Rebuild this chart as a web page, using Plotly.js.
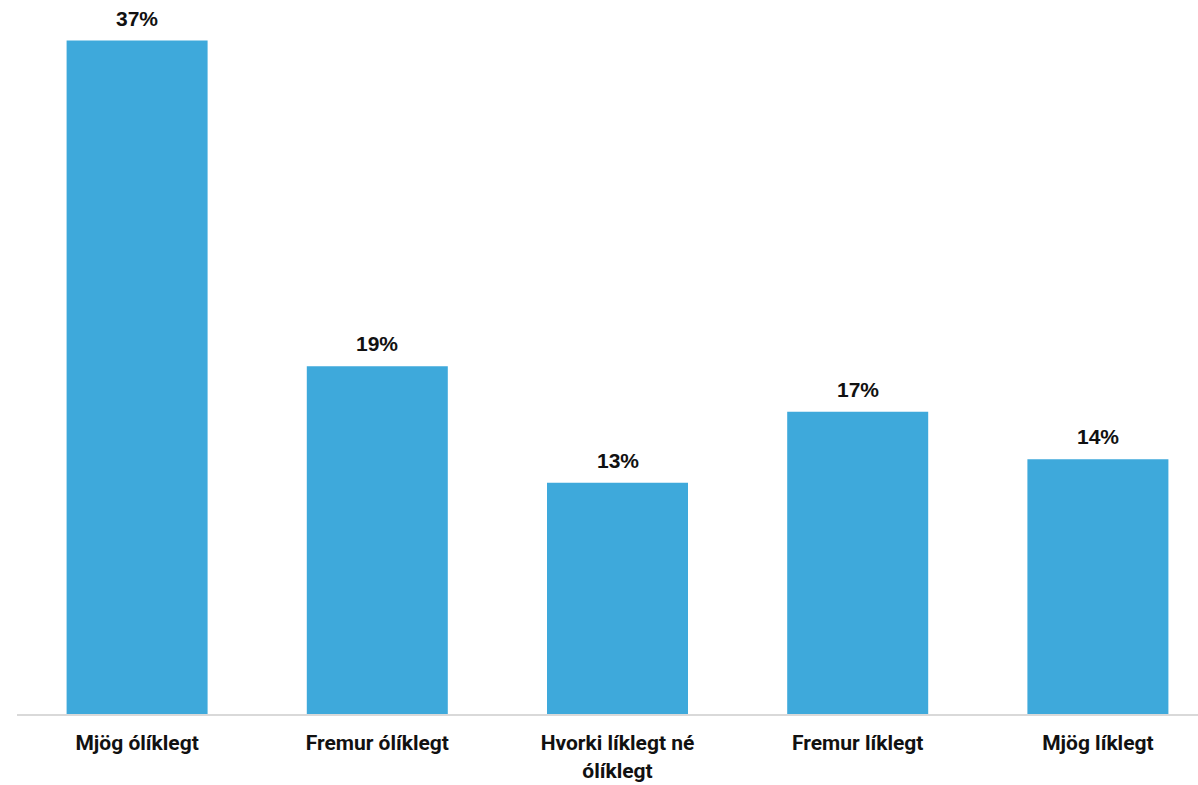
<!DOCTYPE html>
<html>
<head>
<meta charset="utf-8">
<script src="https://cdn.plot.ly/plotly-3.0.1.min.js"></script>
<style>
html,body{margin:0;padding:0;background:#fff;overflow:hidden;}
#chart{width:1218px;height:785px;}
</style>
</head>
<body>
<div id="chart"></div>
<script>
const categories = ["Mjög ólíklegt", "Fremur ólíklegt", "Hvorki líklegt né<br>ólíklegt", "Fremur líklegt", "Mjög líklegt"];
const values = [0.370, 0.191, 0.127, 0.166, 0.140];
const labels = values.map(v => Math.round(v * 100) + "%");

const trace = {
  type: "bar",
  x: categories,
  y: values,
  marker: {color: "#3EA9DB"},
  hoverinfo: "skip"
};

const annotations = categories.map((c, i) => ({
  x: c,
  y: values[i],
  xref: "x",
  yref: "y",
  text: labels[i],
  showarrow: false,
  yanchor: "bottom",
  yshift: 9,
  font: {family: "Liberation Sans, Arial, sans-serif", size: 21, color: "#111111", weight: "bold"}
}));

const layout = {
  width: 1218,
  height: 785,
  margin: {l: 17, r: 0, t: 20, b: 71},
  paper_bgcolor: "#ffffff",
  plot_bgcolor: "#ffffff",
  bargap: 0.413,
  showlegend: false,
  annotations: annotations,
  xaxis: {
    showline: true,
    linecolor: "#d9d9d9",
    linewidth: 2,
    ticks: "",
    ticklabelstandoff: 9,
    tickfont: {family: "Roboto, sans-serif", size: 21, color: "#111111", weight: "bold"},
    fixedrange: true
  },
  yaxis: {
    range: [0, 0.3813],
    visible: false,
    showgrid: false,
    zeroline: false,
    fixedrange: true
  }
};

Plotly.newPlot("chart", [trace], layout, {displayModeBar: false, staticPlot: true});
</script>
</body>
</html>
